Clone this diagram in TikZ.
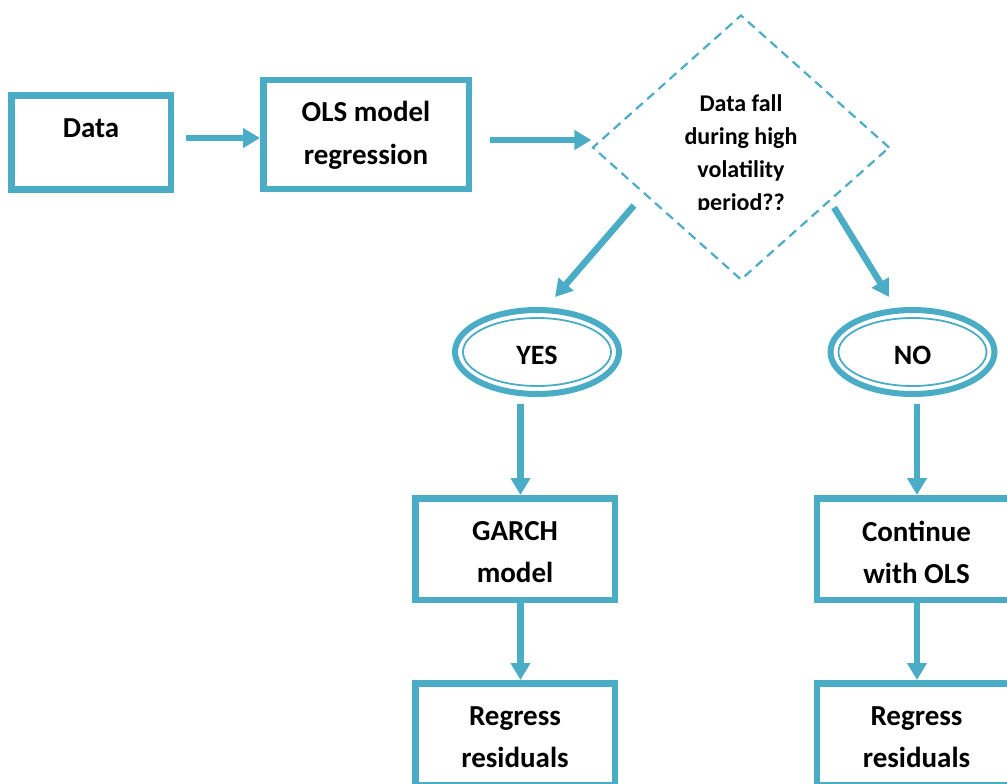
\documentclass[tikz,border=0pt]{standalone}
\usepackage{fontspec}
\setmainfont{Carlito}
\usetikzlibrary{arrows.meta,shapes.geometric}
\definecolor{accent}{RGB}{75,172,198}
\newcommand{\lowr}[2][3.5pt]{\raisebox{-#1}[\height][\depth]{#2}}
\begin{document}
\begin{tikzpicture}[x=1pt,y=-1pt,
  box/.style={draw=accent, line width=6.5pt, minimum width=199.5pt, minimum height=101.5pt,
    inner sep=0pt, align=center, font=\bfseries\fontsize{29}{42}\selectfont},
  oval/.style={ellipse, draw=accent, line width=6pt, minimum width=164pt, minimum height=84pt,
    inner sep=0pt, font=\bfseries\fontsize{28}{34}\selectfont},
  innerring/.style={draw=accent, line width=1.8pt},
  arr/.style={draw=accent, line width=6.5pt, -{Triangle[length=17pt,width=19pt]}},
  decision/.style={diamond, draw=accent, line width=2.2pt, dash pattern=on 9pt off 6pt,
    minimum width=297pt, minimum height=265pt, inner sep=0pt},
  qtext/.style={align=center, font=\bfseries\fontsize{24}{33}\selectfont, inner sep=0pt}
]
\useasboundingbox (0,0) rectangle (1007,784);
\clip (0,0) rectangle (1007,784);

% top row
\node[box, minimum width=159.5pt, minimum height=93.5pt] (data) at (91,142.5)
  {\raisebox{5pt}[0pt][0pt]{Data}};
\node[box, minimum width=205.5pt, minimum height=108.5pt,
      font=\bfseries\fontsize{29}{43}\selectfont] (ols) at (366,134.5)
  {\lowr[1pt]{OLS model}\\\lowr[1pt]{regression}};

% decision
\node[decision] (dia) at (741,147.5) {};
\begin{scope}
  \clip (560,0) rectangle (920,209);
  \node[qtext] (q) at (741,154) {Data fall\\during high\\volatility\\period??};
\end{scope}

% outcomes
\node[oval] (yes) at (537,352) {\raisebox{-12pt}[0pt][0pt]{YES}};
\draw[innerring] (yes.center) ellipse [x radius=74pt, y radius=34pt];
\node[oval] (no) at (912.5,352) {\raisebox{-12pt}[0pt][0pt]{NO}};
\draw[innerring] (no.center) ellipse [x radius=74pt, y radius=34pt];

% lower boxes
\node[box] (garch) at (515,549) {\lowr{GARCH}\\\lowr{model}};
\node[box] (cont) at (916.5,549) {\lowr{Continue}\\\lowr{with OLS}};
\node[box] (regl) at (515,734) {\lowr{Regress}\\\lowr{residuals}};
\node[box] (regr) at (916.5,734) {\lowr{Regress}\\\lowr{residuals}};

% connectors
\draw[arr] ([xshift=12pt,yshift=4.5pt]data.east) -- ([yshift=-3.5pt]ols.west);
\draw[arr] ([xshift=18pt,yshift=-5.5pt]ols.east) -- ([yshift=7.5pt]dia.west);
\draw[arr] ([xshift=-107pt,yshift=-58pt]dia.center) -- ([xshift=18pt,yshift=55pt]yes.center);
\draw[arr] ([xshift=93pt,yshift=-60pt]dia.center) -- ([xshift=-23.5pt,yshift=55pt]no.center);
\draw[arr] ([xshift=-16.5pt,yshift=-52pt]yes.center) -- ([xshift=5.5pt]garch.north);
\draw[arr] ([xshift=5.5pt]garch.south) -- ([xshift=5.5pt]regl.north);
\draw[arr] ([xshift=4.5pt,yshift=-52pt]no.center) -- ([xshift=0.5pt]cont.north);
\draw[arr] ([xshift=0.5pt]cont.south) -- ([xshift=0.5pt]regr.north);
\end{tikzpicture}
\end{document}
